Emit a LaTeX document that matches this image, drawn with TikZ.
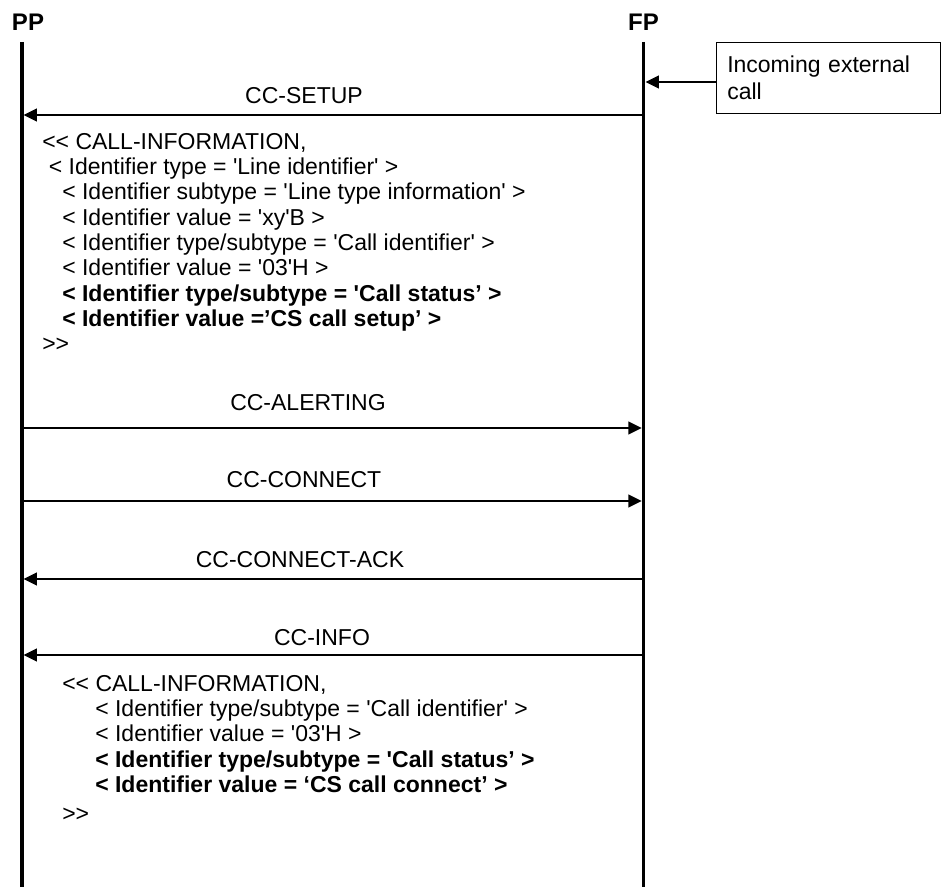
\documentclass[tikz,border=0pt]{standalone}
\usepackage{fontspec}
\setmainfont{Liberation Sans}[Ligatures=TeXOff]
\usepackage{tikz}
\usetikzlibrary{%
  arrows.meta,
  positioning}
\newcommand{\msgfont}{\fontsize{17.25}{19}\selectfont}
\tikzset{
  %% Entity names above the life lines
  entity/.style={
    font=\fontsize{18}{21}\selectfont\bfseries,
    inner sep=0pt, anchor=base},
  %% Life lines
  lifeline/.style={line width=2.8pt, black},
  %% Messages
  msg/.style={-{Triangle[length=10pt,width=9.5pt]}, line width=1.5pt, black},
  msglabel/.style={font=\msgfont, inner sep=0pt, anchor=base},
  %% Information element blocks
  infoblock/.style={
    font=\msgfont, align=left,
    inner sep=0pt, anchor=north west},
  %% External event
  eventbox/.style={
    rectangle, draw=black, line width=0.9pt,
    anchor=north west, align=left,
    minimum width=168pt, minimum height=53.25pt,
    text width=152pt, inner xsep=8pt,
    font=\fontsize{17.25}{20.25}\selectfont},
}
\begin{document}
\begin{tikzpicture}[x=0.75pt, y=-0.75pt]
  \useasboundingbox (0,0) rectangle (942,887);

  %% Entities
  \node[entity] (pp) at (28,31)    {PP};
  \node[entity] (fp) at (643.5,31) {FP};

  %% Life lines
  \coordinate (pp-top) at (21.7,42);
  \coordinate (pp-bot) at (21.7,887);
  \coordinate (fp-top) at (643.5,42);
  \coordinate (fp-bot) at (643.5,887);
  \draw[lifeline] (pp-top) -- (pp-bot);
  \draw[lifeline] (fp-top) -- (fp-bot);

  %% Incoming external call
  \node[eventbox] (event) at (716,42) {Incoming external\\call};
  \coordinate (fp-event) at (645.5,82);
  \draw[msg] (event.west |- fp-event) -- (fp-event);

  %% Message end points
  \coordinate (pp-setup) at (23.6,115);   \coordinate (fp-setup) at (643.5,115);
  \coordinate (pp-alert) at (21.7,428);   \coordinate (fp-alert) at (641.6,428);
  \coordinate (pp-conn)  at (21.7,501);   \coordinate (fp-conn)  at (641.6,501);
  \coordinate (pp-ack)   at (23.6,579);   \coordinate (fp-ack)   at (643.5,579);
  \coordinate (pp-info)  at (23.6,655);   \coordinate (fp-info)  at (643.5,655);

  %% CC-SETUP
  \draw[msg] (fp-setup) -- (pp-setup);
  \node[msglabel] (l-setup) at (304,104) {CC-SETUP};
  \node[infoblock] (setupinfo) at (42,133) {%
    << CALL-INFORMATION,\\
    \hspace*{5pt}< Identifier type = 'Line identifier' >\\
    \hspace*{15pt}< Identifier subtype = 'Line type information' >\\
    \hspace*{15pt}< Identifier value = 'xy'B >\\
    \hspace*{15pt}< Identifier type/subtype = 'Call identifier' >\\
    \hspace*{15pt}< Identifier value = '03'H >\\
    \hspace*{15pt}\textbf{< Identifier type/subtype = 'Call status’ >}\\
    \hspace*{15pt}\textbf{< Identifier value =’CS call setup’ >}\\
    >>};

  %% CC-ALERTING, CC-CONNECT, CC-CONNECT-ACK
  \draw[msg] (pp-alert) -- (fp-alert);
  \node[msglabel] (l-alert) at (308,411) {CC-ALERTING};
  \draw[msg] (pp-conn) -- (fp-conn);
  \node[msglabel] (l-conn) at (304,488) {CC-CONNECT};
  \draw[msg] (fp-ack) -- (pp-ack);
  \node[msglabel] (l-ack) at (300,567) {CC-CONNECT-ACK};

  %% CC-INFO
  \draw[msg] (fp-info) -- (pp-info);
  \node[msglabel] (l-info) at (322,645) {CC-INFO};
  \node[infoblock] (callinfo) at (62,675) {%
    << CALL-INFORMATION,\\
    \hspace*{24.75pt}< Identifier type/subtype = 'Call identifier' >\\
    \hspace*{24.75pt}< Identifier value = '03'H >\\
    \hspace*{24.75pt}\textbf{< Identifier type/subtype = 'Call status’ >}\\
    \hspace*{24.75pt}\textbf{< Identifier value = ‘CS call connect’ >}\\[3pt]
    >>};

\end{tikzpicture}
\end{document}
